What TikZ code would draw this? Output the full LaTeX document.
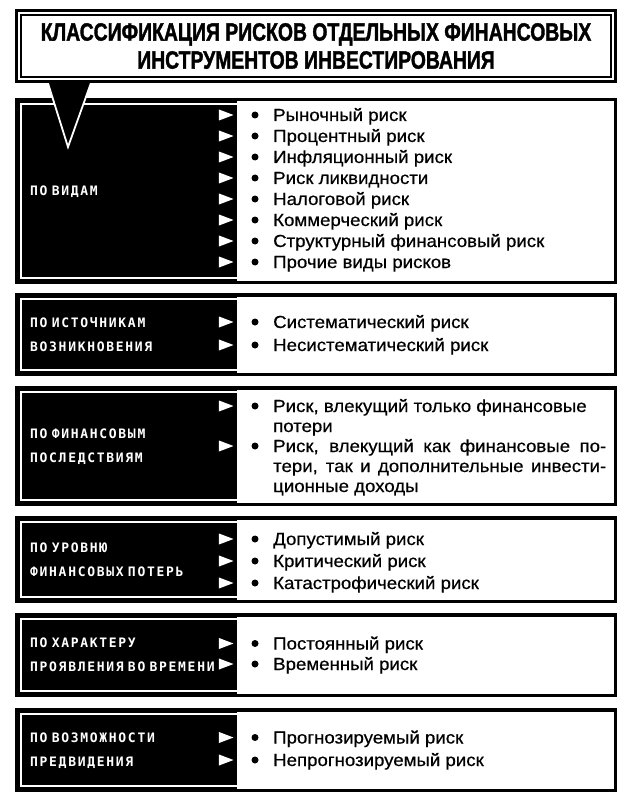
\documentclass[tikz,border=0pt]{standalone}
\usepackage{fontspec}
\setmainfont{Liberation Sans}[FakeStretch=1.065, FakeBold=0.5]
\newfontfamily\headfont{Liberation Sans}[FakeStretch=0.775, FakeBold=1.5]
\newfontfamily\catfont{DejaVu Sans Mono}[LetterSpace=13]
\usetikzlibrary{shapes.geometric}

\begin{document}
\begin{tikzpicture}[
    x=1pt, y=-1pt,
    % Node styles
    titlebox/.style={
        rectangle,
        draw=black,
        line width=2.7pt,
        double=white,
        double distance=2pt,
        fill=white,
        minimum width=594.6pt,
        minimum height=66.6pt,
        align=center,
        font=\headfont\bfseries\fontsize{25}{28}\selectfont
    },
    catbox/.style={
        rectangle,
        fill=black,
        text=white,
        anchor=north west,
        minimum width=220.5pt,
        text width=193.5pt,
        inner xsep=13.5pt,
        inner ysep=0pt,
        align=left,
        font=\catfont\bfseries\fontsize{13}{24}\selectfont
    },
    listbox/.style={
        rectangle,
        fill=white,
        anchor=north west,
        minimum width=377.5pt,
        inner sep=0pt
    },
    blockframe/.style={
        draw=black,
        line width=3.5pt
    },
    insetline/.style={
        draw=white,
        line width=1.6pt
    },
    pointer/.style={
        isosceles triangle,
        isosceles triangle stretches,
        fill=white,
        inner sep=0pt,
        minimum width=11pt,
        minimum height=14.5pt,
        anchor=apex
    },
    dot/.style={
        circle,
        fill=black,
        inner sep=0pt,
        minimum size=7pt
    },
    item/.style={
        anchor=base west,
        inner sep=0pt,
        yshift=-6pt,
        font=\fontsize{17.5}{21}\selectfont
    }
]

\useasboundingbox (0,0) rectangle (625,805);
\fill[white] (0,0) rectangle (625,805);

% ===== Block 1: po vidam =====

\node[catbox, minimum height=182.5pt] (vid) at (16.5,99.75) {ПО ВИДАМ};
\node[listbox, minimum height=182.5pt] (vidlist) at (vid.north east) {};
\draw[blockframe] (vid.north west) rectangle (vidlist.south east);
\draw[insetline] ([yshift=-4.5pt]vid.north east) -- ([shift={(4.5pt,-4.5pt)}]vid.north west)
    -- ([shift={(4.5pt,4.5pt)}]vid.south west) -- ([yshift=4.5pt]vid.south east);

\foreach \txt [count=\i from 0] in {Рыночный риск, Процентный риск,
    Инфляционный риск, Риск ликвидности, Налоговой риск,
    Коммерческий риск, Структурный финансовый риск, Прочие виды рисков} {
    \node[pointer] (vidp\i) at (234,115+21*\i) {};
    \node[dot] (vidd\i) at (255,115+21*\i) {};
    \node[item] (vid\i) at (273,115+21*\i) {\txt};
}

% ===== Block 2: po istochnikam =====

\node[catbox, minimum height=79.5pt] (ist) at (16.5,294.75) {ПО ИСТОЧНИКАМ\\ВОЗНИКНОВЕНИЯ};
\node[listbox, minimum height=79.5pt] (istlist) at (ist.north east) {};
\draw[blockframe] (ist.north west) rectangle (istlist.south east);
\draw[insetline] ([yshift=-4.5pt]ist.north east) -- ([shift={(4.5pt,-4.5pt)}]ist.north west)
    -- ([shift={(4.5pt,4.5pt)}]ist.south west) -- ([yshift=4.5pt]ist.south east);

\node[pointer] (istp1) at (234,322) {};
\node[dot] (istd1) at (255,322) {};
\node[item] (ist1) at (273,322) {Систематический риск};
\node[pointer] (istp2) at (234,345) {};
\node[dot] (istd2) at (255,345) {};
\node[item] (ist2) at (273,345) {Несистематический риск};

% ===== Block 3: po finansovym posledstviyam =====

\node[catbox, minimum height=116.5pt] (pos) at (16.5,387.75) {ПО ФИНАНСОВЫМ\\ПОСЛЕДСТВИЯМ};
\node[listbox, minimum height=116.5pt] (poslist) at (pos.north east) {};
\draw[blockframe] (pos.north west) rectangle (poslist.south east);
\draw[insetline] ([yshift=-4.5pt]pos.north east) -- ([shift={(4.5pt,-4.5pt)}]pos.north west)
    -- ([shift={(4.5pt,4.5pt)}]pos.south west) -- ([yshift=4.5pt]pos.south east);

\node[pointer] (posp1) at (234,406) {};
\node[dot] (posd1) at (255,406) {};
\node[item] (pos1) at (273,406) {Риск, влекущий только финансовые};
\node[item] (pos1b) at (273,426) {потери};
\node[pointer] (posp2) at (234,446) {};
\node[dot] (posd2) at (255,446) {};
\node[item] (pos2) at (273,446) {\makebox[333pt][s]{Риск, влекущий как финансовые по-}};
\node[item] (pos2b) at (273,466) {\makebox[333pt][s]{тери, так и дополнительные инвести-}};
\node[item] (pos2c) at (273,486) {ционные доходы};

% ===== Block 4: po urovnyu poter =====

\node[catbox, minimum height=83.5pt] (urv) at (16.5,517.75) {ПО УРОВНЮ\\ФИНАНСОВЫХ ПОТЕРЬ};
\node[listbox, minimum height=83.5pt] (urvlist) at (urv.north east) {};
\draw[blockframe] (urv.north west) rectangle (urvlist.south east);
\draw[insetline] ([yshift=-4.5pt]urv.north east) -- ([shift={(4.5pt,-4.5pt)}]urv.north west)
    -- ([shift={(4.5pt,4.5pt)}]urv.south west) -- ([yshift=4.5pt]urv.south east);

\node[pointer] (urvp1) at (234,539) {};
\node[dot] (urvd1) at (255,539) {};
\node[item] (urv1) at (273,539) {Допустимый риск};
\node[pointer] (urvp2) at (234,561) {};
\node[dot] (urvd2) at (255,561) {};
\node[item] (urv2) at (273,561) {Критический риск};
\node[pointer] (urvp3) at (234,583) {};
\node[dot] (urvd3) at (255,583) {};
\node[item] (urv3) at (273,583) {Катастрофический риск};

% ===== Block 5: po harakteru vo vremeni =====

\node[catbox, minimum height=80.5pt] (har) at (16.5,614.75) {ПО ХАРАКТЕРУ\\ПРОЯВЛЕНИЯ ВО ВРЕМЕНИ};
\node[listbox, minimum height=80.5pt] (harlist) at (har.north east) {};
\draw[blockframe] (har.north west) rectangle (harlist.south east);
\draw[insetline] ([yshift=-4.5pt]har.north east) -- ([shift={(4.5pt,-4.5pt)}]har.north west)
    -- ([shift={(4.5pt,4.5pt)}]har.south west) -- ([yshift=4.5pt]har.south east);

\node[pointer] (harp1) at (234,643.5) {};
\node[dot] (hard1) at (255,643.5) {};
\node[item] (har1) at (273,643.5) {Постоянный риск};
\node[pointer] (harp2) at (234,664) {};
\node[dot] (hard2) at (255,664) {};
\node[item] (har2) at (273,664) {Временный риск};

% ===== Block 6: po vozmozhnosti predvideniya =====

\node[catbox, minimum height=80.5pt] (pred) at (16.5,709.75) {ПО ВОЗМОЖНОСТИ\\ПРЕДВИДЕНИЯ};
\node[listbox, minimum height=80.5pt] (predlist) at (pred.north east) {};
\draw[blockframe] (pred.north west) rectangle (predlist.south east);
\draw[insetline] ([yshift=-4.5pt]pred.north east) -- ([shift={(4.5pt,-4.5pt)}]pred.north west)
    -- ([shift={(4.5pt,4.5pt)}]pred.south west) -- ([yshift=4.5pt]pred.south east);

\node[pointer] (predp1) at (234,737.5) {};
\node[dot] (predd1) at (255,737.5) {};
\node[item] (pred1) at (273,737.5) {Прогнозируемый риск};
\node[pointer] (predp2) at (234,760) {};
\node[dot] (predd2) at (255,760) {};
\node[item] (pred2) at (273,760) {Непрогнозируемый риск};

% ===== Pointer from title =====

\filldraw[fill=black, draw=white, line width=1.8pt] (47,80) -- (92,80) -- (68,147) -- cycle;

% ===== Title =====

\node[titlebox] (title) at (316,46) {КЛАССИФИКАЦИЯ РИСКОВ ОТДЕЛЬНЫХ ФИНАНСОВЫХ\\ИНСТРУМЕНТОВ ИНВЕСТИРОВАНИЯ};

\end{tikzpicture}
\end{document}
